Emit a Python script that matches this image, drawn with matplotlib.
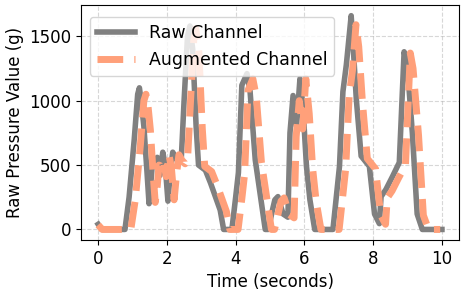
import matplotlib
matplotlib.use("Agg")
import matplotlib.pyplot as plt

# raw channel
raw_t = [0.0, 0.1, 0.78, 0.9, 1.05, 1.15, 1.2, 1.25, 1.33, 1.42, 1.48, 1.53, 1.58, 1.65,
         1.72, 1.8, 1.88, 1.95, 2.03, 2.1, 2.17, 2.25, 2.35, 2.42, 2.5, 2.6, 2.67, 2.75,
         2.85, 2.92, 3.12, 3.27, 3.55, 3.65, 3.89, 4.0, 4.08, 4.18, 4.33, 4.42, 4.57,
         4.71, 4.86, 4.95, 5.07, 5.14, 5.23, 5.38, 5.52, 5.58, 5.67, 5.77, 5.87, 5.96,
         6.06, 6.16, 6.3, 6.83, 7.02, 7.12, 7.22, 7.36, 7.41, 7.51, 7.65, 7.89, 8.04,
         8.18, 8.23, 8.37, 8.56, 8.76, 8.9, 8.99, 9.14, 9.28, 9.43, 10.0]
raw_v = [40, 0, 0, 250, 700, 1050, 1100, 1000, 800, 450, 200, 350, 520, 500,
         560, 420, 600, 500, 220, 450, 600, 560, 520, 560, 1000, 1500, 1580, 1400,
         800, 500, 460, 360, 150, 0, 0, 250, 440, 1120, 1210, 1070, 540,
         280, 0, 0, 150, 230, 255, 120, 95, 750, 1040, 800, 1170, 940,
         490, 230, 0, 0, 490, 1070, 1280, 1660, 1460, 1010, 570, 490, 120,
         45, 255, 310, 410, 520, 1380, 1280, 750, 120, 0, 0]

# augmented channel
aug_t = [0.0, 0.12, 0.95, 1.08, 1.23, 1.33, 1.39, 1.45, 1.52, 1.6, 1.66, 1.72, 1.77, 1.84,
         1.9, 1.98, 2.06, 2.13, 2.21, 2.28, 2.35, 2.43, 2.53, 2.6, 2.68, 2.78, 2.84, 2.93,
         3.03, 3.1, 3.3, 3.45, 3.73, 3.83, 4.07, 4.18, 4.26, 4.36, 4.5, 4.6, 4.75,
         4.89, 5.04, 5.13, 5.25, 5.32, 5.41, 5.56, 5.7, 5.76, 5.85, 5.95, 6.04, 6.14,
         6.24, 6.34, 6.48, 7.01, 7.2, 7.3, 7.4, 7.5, 7.58, 7.69, 7.83, 8.07, 8.22,
         8.36, 8.41, 8.55, 8.74, 8.94, 9.08, 9.16, 9.32, 9.46, 9.61, 9.95]
aug_v = [35, 0, 0, 230, 660, 1000, 1050, 960, 770, 430, 210, 340, 500, 490,
         540, 410, 580, 480, 230, 430, 580, 540, 510, 540, 960, 1470, 1560, 1380,
         780, 490, 450, 350, 140, 0, 0, 240, 430, 1080, 1170, 1030, 520,
         270, 0, 0, 140, 220, 245, 115, 90, 720, 1000, 780, 1170, 900,
         470, 220, 0, 0, 470, 1030, 1240, 1590, 1420, 980, 550, 470, 110,
         40, 245, 300, 400, 500, 1370, 1250, 730, 110, 0, 0]

fig = plt.figure(figsize=(4.68, 2.95), dpi=100)
ax = fig.add_axes([0.173, 0.186, 0.808, 0.797])

ax.plot(raw_t, raw_v, color="gray", linewidth=4, label="Raw Channel")
ax.plot(aug_t, aug_v, color="lightsalmon", linewidth=5, linestyle="--", label="Augmented Channel")

ax.set_xlabel("Time (seconds)", fontsize=12)
ax.set_ylabel("Raw Pressure Value (g)", fontsize=12)
ax.tick_params(labelsize=12)
ax.grid(True, linestyle="--", alpha=0.5)
ax.legend(loc="upper left", bbox_to_anchor=(0.0, 0.986), fontsize=12.5, handlelength=2.2)

fig.savefig("out.png", dpi=100)
